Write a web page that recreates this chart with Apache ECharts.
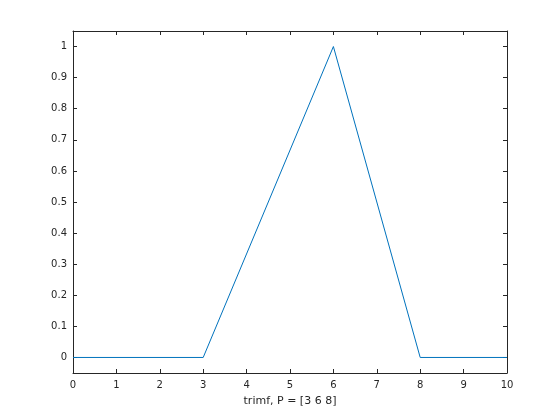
<!DOCTYPE html>
<html>
<head>
<meta charset="utf-8">
<script src="https://cdn.jsdelivr.net/npm/echarts@6/dist/echarts.min.js"></script>
<style>html,body{margin:0;padding:0;background:#fff}#c{width:560px;height:420px}</style>
</head>
<body>
<div id="c"></div>
<script>
var xPoints = [0, 3, 6, 8, 10];
var yPoints = [0, 0, 1, 0, 0];
var xTicks = [0,1,2,3,4,5,6,7,8,9,10];
var yTicks = [0,0.1,0.2,0.3,0.4,0.5,0.6,0.7,0.8,0.9,1];
var xLabel = 'trimf, P = [3 6 8]';

var data = xPoints.map(function(x,i){return [x, yPoints[i]];});
var font = 'DejaVu Sans';
var axisCol = '#262626';
var chart = echarts.init(document.getElementById('c'), null, {renderer:'canvas'});
var baseX = {
  type:'value', min:0, max:10, interval:1,
  axisLine:{show:true, onZero:false, lineStyle:{color:axisCol, width:1}},
  splitLine:{show:false}
};
var baseY = {
  type:'value', min:-0.05, max:1.05,
  axisLine:{show:true, onZero:false, lineStyle:{color:axisCol, width:1}},
  splitLine:{show:false}
};
chart.setOption({
  animation:false,
  backgroundColor:'#fff',
  grid:{left:73, right:53, top:31, bottom:47, containLabel:false},
  xAxis:[
    Object.assign({}, baseX, {position:'bottom',
      axisLabel:{show:true, color:axisCol, fontFamily:font, fontSize:10, margin:7,
        customValues: xTicks, formatter:function(v){return String(v);}},
      axisTick:{show:true, inside:true, length:4, lineStyle:{color:axisCol}, customValues: xTicks},
      name:xLabel, nameLocation:'middle', nameGap:23,
      nameTextStyle:{color:axisCol, fontFamily:font, fontSize:11}}),
    Object.assign({}, baseX, {position:'top', axisLabel:{show:false},
      axisTick:{show:true, inside:true, length:4, lineStyle:{color:axisCol}, customValues: xTicks}})
  ],
  yAxis:[
    Object.assign({}, baseY, {position:'left',
      axisLabel:{show:true, color:axisCol, fontFamily:font, fontSize:10, margin:6,
        customValues: yTicks, formatter:function(v){return String(Math.round(v*10)/10);}},
      axisTick:{show:true, inside:true, length:4, lineStyle:{color:axisCol}, customValues: yTicks}}),
    Object.assign({}, baseY, {position:'right', axisLabel:{show:false},
      axisTick:{show:true, inside:true, length:4, lineStyle:{color:axisCol}, customValues: yTicks}})
  ],
  series:[{
    type:'line', data:data, xAxisIndex:0, yAxisIndex:0,
    showSymbol:false, symbol:'none',
    lineStyle:{color:'#0072BD', width:1}, itemStyle:{color:'#0072BD'}
  }]
});
</script>
</body>
</html>
